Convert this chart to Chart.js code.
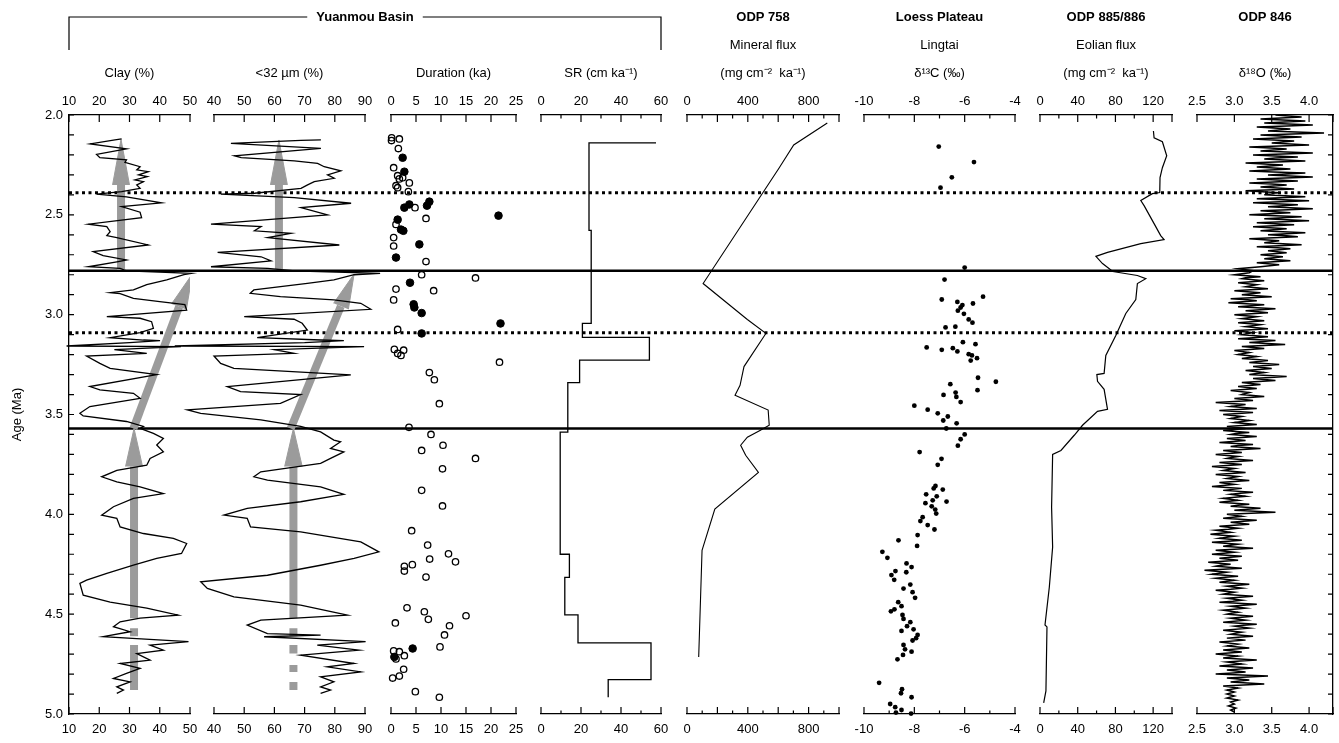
<!DOCTYPE html>
<html lang="en">
<head>
<meta charset="UTF-8">
<title>Yuanmou Basin and Pliocene records</title>
<script src="https://cdn.jsdelivr.net/npm/chart.js"></script>
<style>
  html, body { margin: 0; padding: 0; background: #fff; }
  #wrap { position: relative; width: 1339px; height: 743px; overflow: hidden; background: #fff; }
  #wrap canvas { position: absolute; top: 0; }
</style>
</head>
<body>
<div id="wrap">
  <canvas id="bg" width="1339" height="743" style="left:0"></canvas>
</div>

<script>
// ---- data: every series is [age (Ma), value] ----

// Yuanmou Basin clay content (%)
const clay = [[2.12,27.4],[2.125,25.2],[2.145,17],[2.17,29],[2.197,19.1],[2.214,20.2],[2.225,29],[2.237,28.5],[2.259,33.5],[2.275,32.4],[2.284,36.2],[2.30,33],[2.309,35.9],[2.325,31.8],[2.334,34.6],[2.35,32.4],[2.367,33.5],[2.384,27.4],[2.396,19.1],[2.41,29],[2.44,40.6],[2.459,27.4],[2.487,33.5],[2.514,34],[2.547,16.4],[2.559,22.5],[2.584,23.6],[2.604,22.5],[2.614,25.8],[2.651,36.2],[2.684,18],[2.704,21.3],[2.726,29],[2.734,26.3],[2.76,16.4],[2.768,26.9],[2.78,29],
  [2.793,50.5],[2.80,48],[2.826,42.3],[2.85,35.7],[2.876,31.3],[2.89,23.6],[2.895,26.9],[2.918,31.3],[2.935,40],[2.95,48.3],[2.977,48.9],[3.01,22.5],[3.018,33.5],[3.035,37.3],[3.068,37.9],[3.09,33.5],[3.115,23.6],[3.127,34.6],[3.13,40.1],[3.14,30],[3.157,9.2],[3.16,47],[3.175,25],[3.194,35.7],[3.207,15.8],[3.244,20.2],[3.269,23.6],[3.30,39],[3.36,16.9],[3.377,20.2],[3.394,31.3],[3.419,33.5],[3.46,16.9],[3.494,13.6],[3.507,14.7],[3.535,29],[3.56,34.6],
  [3.57,33.5],[3.595,37.9],[3.62,41.2],[3.653,39],[3.687,41.2],[3.72,36.8],[3.754,35.7],[3.78,25.8],[3.812,20.8],[3.837,25.8],[3.862,33.5],[3.896,41.2],[3.92,31.3],[3.962,24.7],[4.004,20.8],[4.02,25.8],[4.063,26.9],[4.096,34.6],[4.12,44.5],[4.146,48.9],[4.196,47.2],[4.221,39],[4.255,31.3],[4.296,22.5],[4.33,15.8],[4.346,13.6],[4.405,14.7],[4.44,23.6],[4.47,35.7],[4.505,46.1],[4.52,33.5],[4.538,26.9],[4.563,24.7],[4.588,30.2],[4.613,21.3],[4.622,32.4],[4.638,49.5],[4.655,36.8],[4.68,41.2],[4.697,32.4],[4.73,36.8],[4.747,26.9],[4.772,33.5],[4.797,29],[4.822,24.7],[4.839,30.2],[4.864,25.8],[4.88,28],[4.897,25.8]];

// Yuanmou Basin <32 um fraction (%)
const fine = [[2.125,75.4],[2.127,68.8],[2.142,45.6],[2.167,75.4],[2.204,46.7],[2.214,49],[2.23,66.6],[2.242,74.3],[2.259,76.5],[2.28,82],[2.30,77.6],[2.317,79.8],[2.334,73.2],[2.35,71],[2.367,68.8],[2.392,53.4],[2.396,42.3],[2.414,66.6],[2.442,85.4],[2.464,68.8],[2.50,77.6],[2.547,39],[2.559,55.6],[2.58,53.4],[2.593,65.5],[2.614,57.8],[2.651,81.5],[2.688,41.2],[2.71,55.6],[2.731,58.9],[2.76,39],[2.768,57.8],[2.78,66],
  [2.793,95],[2.80,86.4],[2.826,79.7],[2.843,70.9],[2.876,53.2],[2.893,52],[2.91,62],[2.926,79.7],[2.943,88.6],[2.973,91.9],[3.01,50],[3.023,66.5],[3.043,69.2],[3.077,70.9],[3.115,54.3],[3.127,75.3],[3.13,83],[3.14,70],[3.157,27],[3.16,89.7],[3.175,60],[3.194,66.5],[3.207,40],[3.244,42.2],[3.269,46.6],[3.302,85.3],[3.36,44.4],[3.385,48.8],[3.40,68.7],[3.444,62],[3.477,31.2],[3.494,35.6],[3.527,55.5],[3.56,68.7],
  [3.587,75.3],[3.628,79.7],[3.637,81.9],[3.67,78.6],[3.687,83],[3.72,78.6],[3.745,75.3],[3.787,55.5],[3.812,53.2],[3.829,57.7],[3.862,75.3],[3.90,83],[3.937,68.7],[3.97,51],[4.004,43.3],[4.02,51],[4.063,52.1],[4.088,68.7],[4.138,88.6],[4.188,94.6],[4.221,86.4],[4.255,75.3],[4.305,57.7],[4.338,35.6],[4.371,37.8],[4.413,46.6],[4.455,68.7],[4.505,84.2],[4.53,55.5],[4.555,51],[4.597,57.7],[4.605,75.3],[4.613,56.6],[4.638,90.2],[4.655,74.2],[4.68,88],[4.705,68.7],[4.747,86.4],[4.764,77.5],[4.789,88.6],[4.814,75.3],[4.839,79.7],[4.864,75.3],[4.88,78.6],[4.897,75.3]];

// grey trend arrows: shafts (two ends) and heads (base, tip, base)
const clayShafts = [[[2.776,27.2],[2.35,27.2]],[[3.57,31.3],[2.96,46.4]],[[4.52,31.5],[3.76,31.5]],[[4.57,31.5],[4.61,31.5]],[[4.655,31.5],[4.88,31.5]]];
const clayHeads = [[[2.35,24.4],[2.122,27.2],[2.35,30.0]],[[2.946,43.9],[2.795,50.8],[2.974,48.8]],[[3.76,28.7],[3.57,31.5],[3.76,34.3]]];
const fineShafts = [[[2.776,61.5],[2.35,61.5]],[[3.57,65.4],[2.958,82.0]],[[4.52,66.3],[3.76,66.3]],[[4.57,66.3],[4.61,66.3]],[[4.655,66.3],[4.697,66.3]],[[4.755,66.3],[4.79,66.3]],[[4.84,66.3],[4.88,66.3]]];
const fineHeads = [[[2.35,58.7],[2.125,61.5],[2.35,64.3]],[[2.943,79.6],[2.796,86.4],[2.973,84.5]],[[3.76,63.4],[3.57,66.3],[3.76,69.2]]];

// duration (ka), open and filled symbols
const durOpen = [[2.114,0.13],[2.12,1.67],[2.128,0.1],[2.168,1.47],[2.264,0.53],[2.304,1.33],[2.314,2.33],[2.32,1.67],[2.34,3.67],[2.354,1.0],[2.364,1.33],[2.384,3.47],[2.464,4.8],[2.518,7.0],[2.548,1.0],[2.614,0.53],[2.656,0.53],[2.734,7.0],[2.80,6.13],[2.816,16.9],[2.872,1.0],[2.88,8.53],[2.926,0.53],[3.074,1.33],[3.174,0.67],[3.178,2.53],[3.194,1.33],[3.204,2.0],[3.238,21.7],[3.29,7.67],[3.326,8.67],[3.446,9.67],[3.564,3.6],[3.60,8.0],[3.654,10.4],[3.68,6.13],[3.72,16.9],[3.772,10.3],[3.88,6.13],[3.958,10.3],[4.082,4.13],[4.154,7.33],[4.198,11.5],[4.224,7.73],[4.238,12.9],[4.252,4.27],[4.26,2.67],[4.284,2.67],[4.314,7.0],[4.468,3.2],[4.488,6.67],[4.526,7.47],[4.508,15.0],[4.544,0.87],[4.558,11.7],[4.604,10.7],[4.664,9.8],[4.684,0.53],[4.688,1.67],[4.724,1.0],[4.708,2.67],[4.776,2.53],[4.81,1.67],[4.82,0.33],[4.888,4.87],[4.916,9.67]];
const durFilled = [[2.214,2.33],[2.284,2.67],[2.434,7.67],[2.448,3.67],[2.454,7.2],[2.464,2.67],[2.504,21.5],[2.524,1.33],[2.574,2.0],[2.58,2.47],[2.648,5.67],[2.714,1.0],[2.84,3.8],[2.948,4.53],[2.964,4.67],[2.992,6.13],[3.044,21.9],[3.094,6.13],[4.672,4.33],[4.714,0.67]];

// sedimentation rate (cm/ka), stepped
const sedRate = [[2.14,57.5],[2.14,24],[2.578,24],[2.578,25.1],[3.044,25.1],[3.044,20.7],[3.114,20.7],[3.114,54.2],[3.228,54.2],[3.228,19.3],[3.34,19.3],[3.34,13.4],[3.588,13.4],[3.588,9.6],[4.20,9.6],[4.20,14.2],[4.316,14.2],[4.316,11.9],[4.504,11.9],[4.504,18.5],[4.644,18.5],[4.644,55],[4.828,55],[4.828,33.6],[4.916,33.6]];

// ODP 758 mineral flux (mg cm-2 ka-1)
const odp758 = [[2.04,923],[2.15,702],[2.264,607],[2.844,106],[3.024,397],[3.094,519],[3.26,375],[3.354,349],[3.404,316],[3.478,534],[3.554,541],[3.58,480],[3.614,397],[3.654,353],[3.704,386],[3.79,470],[3.974,183],[4.18,99],[4.714,77]];

// Lingtai d13C (permil)
const lingtai = [[2.158,-7.03],[2.236,-5.63],[2.312,-6.51],[2.364,-6.96],[2.764,-6.0],[2.824,-6.8],[2.91,-5.27],[2.924,-6.91],[2.936,-6.29],[2.952,-6.09],[2.944,-5.67],[2.964,-6.16],[2.98,-6.27],[2.996,-6.03],[3.024,-5.84],[3.04,-5.69],[3.064,-6.76],[3.06,-6.37],[3.138,-6.07],[3.148,-5.57],[3.164,-7.51],[3.176,-6.91],[3.168,-6.47],[3.184,-6.29],[3.198,-5.84],[3.204,-5.71],[3.218,-5.51],[3.23,-5.76],[3.316,-5.47],[3.336,-4.76],[3.378,-5.49],[3.348,-6.57],[3.402,-6.84],[3.39,-6.36],[3.412,-6.33],[3.438,-6.16],[3.456,-8.0],[3.476,-7.47],[3.494,-7.07],[3.51,-6.67],[3.53,-6.85],[3.544,-6.32],[3.57,-6.73],[3.60,-6.0],[3.624,-6.16],[3.656,-6.27],[3.688,-7.79],[3.722,-6.92],[3.752,-7.07],[3.858,-7.16],[3.87,-7.23],[3.876,-6.87],[3.90,-7.53],[3.91,-7.11],[3.936,-6.72],[3.944,-7.56],[3.93,-7.27],[3.96,-7.31],[3.976,-7.17],[3.996,-7.13],[4.014,-7.67],[4.034,-7.76],[4.054,-7.47],[4.076,-7.2],[4.104,-7.87],[4.13,-8.63],[4.158,-7.89],[4.188,-9.27],[4.218,-9.07],[4.246,-8.31],[4.264,-8.11],[4.284,-8.75],[4.29,-8.32],[4.304,-8.91],[4.328,-8.8],[4.352,-8.16],[4.372,-8.43],[4.39,-8.07],[4.418,-7.97],[4.44,-8.64],[4.46,-8.51],[4.486,-8.93],[4.476,-8.79],[4.504,-8.47],[4.524,-8.43],[4.54,-8.16],[4.56,-8.29],[4.584,-8.51],[4.576,-8.03],[4.604,-7.87],[4.62,-7.93],[4.632,-8.07],[4.654,-8.43],[4.676,-8.37],[4.688,-8.11],[4.704,-8.45],[4.726,-8.67],[4.844,-9.4],[4.876,-8.49],[4.896,-8.53],[4.916,-8.11],[4.95,-8.96],[4.966,-8.76],[4.98,-8.51],[4.993,-8.73],[4.998,-8.13]];

// ODP 885/886 eolian flux (mg cm-2 ka-1)
const eolian = [[2.08,120.3],[2.114,121],[2.134,129.8],[2.204,134.4],[2.264,129.8],[2.314,127.3],[2.388,127],[2.394,119.2],[2.428,106.9],[2.454,110.4],[2.544,121],[2.604,128],[2.624,131.6],[2.644,106.9],[2.688,71.6],[2.708,59.3],[2.744,66.3],[2.784,77.2],[2.804,103.3],[2.82,112.2],[2.844,103.3],[2.924,101.6],[2.994,91],[3.104,80.4],[3.204,69.8],[3.294,68],[3.3,60.3],[3.334,61],[3.374,68],[3.474,71.6],[3.484,61],[3.554,45.1],[3.604,36.3],[3.68,22.2],[3.70,13.4],[3.964,12.3],[4.164,13.4],[4.364,9.9],[4.554,5.3],[4.564,7.4],[4.884,6.3],[4.944,3.9]];

// ODP 846 benthic d18O (permil)
const odp846 = [[2.00,3.55],[2.01,3.90],[2.015,3.62],[2.02,3.35],[2.03,3.95],[2.04,3.40],[2.05,4.05],[2.055,3.70],[2.06,3.30],[2.07,3.75],[2.08,3.45],[2.09,4.20],[2.10,3.35],[2.105,3.60],[2.11,3.90],[2.12,3.25],[2.13,3.80],[2.14,3.50],[2.15,4.00],[2.16,3.20],[2.165,3.48],[2.17,3.70],[2.18,3.35],[2.19,4.05],[2.20,3.25],[2.21,3.85],[2.215,3.55],[2.22,3.40],[2.23,3.95],[2.24,3.15],[2.25,3.65],[2.26,3.30],[2.27,3.75],[2.28,3.20],[2.285,3.52],[2.29,3.95],[2.30,3.45],[2.31,4.05],[2.32,3.30],[2.33,3.85],[2.34,3.20],[2.345,3.50],[2.35,3.70],[2.36,3.35],[2.37,3.80],[2.38,3.15],[2.39,3.60],[2.40,3.40],[2.41,3.95],[2.415,3.62],[2.42,3.30],[2.43,4.00],[2.44,3.25],[2.45,3.85],[2.46,3.45],[2.47,4.05],[2.475,3.72],[2.48,3.35],[2.49,3.75],[2.50,3.20],[2.51,3.90],[2.52,3.40],[2.53,4.00],[2.54,3.30],[2.545,3.55],[2.55,3.80],[2.56,3.25],[2.57,3.70],[2.58,3.35],[2.59,3.95],[2.60,3.45],[2.605,3.70],[2.61,3.85],[2.62,3.20],[2.63,3.60],[2.64,3.40],[2.65,3.90],[2.66,3.30],[2.665,3.58],[2.67,3.75],[2.68,3.45],[2.69,3.70],[2.70,3.35],[2.71,3.65],[2.72,3.40],[2.73,3.75],[2.74,3.30],[2.75,3.60],[2.76,3.35],[2.77,3.05],[2.78,3.25],
  [2.79,3.20],[2.80,3.00],[2.81,3.35],[2.815,3.15],[2.82,3.10],[2.83,3.40],[2.84,3.05],[2.85,3.30],[2.86,3.15],[2.87,3.45],[2.875,3.22],[2.88,3.00],[2.89,3.35],[2.90,3.10],[2.91,3.50],[2.92,2.95],[2.925,3.18],[2.93,3.30],[2.94,2.92],[2.95,3.40],[2.96,3.05],[2.97,3.55],[2.98,3.15],[2.985,3.32],[2.99,3.45],[3.00,3.00],[3.01,3.30],[3.02,3.10],[3.03,3.40],[3.04,3.05],[3.045,3.22],[3.05,3.35],[3.06,3.15],[3.07,3.45],[3.08,3.00],[3.09,3.25],[3.10,3.10],[3.105,3.28],[3.11,3.45],[3.12,3.05],[3.13,3.55],[3.14,3.20],[3.15,3.68],[3.16,3.10],[3.165,3.26],[3.17,3.40],[3.18,3.00],[3.19,3.20],[3.20,3.05],[3.21,3.30],[3.22,3.10],[3.225,3.30],[3.23,3.45],[3.24,3.20],[3.25,3.60],[3.26,3.25],[3.27,3.50],[3.28,3.15],[3.285,3.28],[3.29,3.40],[3.30,3.20],[3.31,3.70],[3.32,3.25],[3.33,3.55],[3.34,3.10],[3.345,3.22],[3.35,3.35],[3.36,3.05],[3.37,3.30],[3.38,2.95],[3.39,3.20],[3.40,3.10],[3.405,3.25],[3.41,3.40],[3.42,3.00],[3.43,3.25],[3.44,2.75],[3.45,3.15],[3.46,2.95],[3.465,3.12],[3.47,3.30],[3.48,2.80],[3.49,3.25],[3.50,2.85],[3.51,3.10],[3.52,2.95],[3.525,3.08],[3.53,3.20],[3.54,3.00],[3.55,3.30],[3.56,2.90],[3.57,3.15],
  [3.58,2.85],[3.59,3.20],[3.595,3.02],[3.60,2.95],[3.61,3.30],[3.62,2.90],[3.63,3.15],[3.64,2.80],[3.65,3.25],[3.655,3.05],[3.66,2.95],[3.67,3.35],[3.68,2.85],[3.69,3.10],[3.70,2.75],[3.71,3.05],[3.715,2.96],[3.72,2.90],[3.73,3.25],[3.74,2.80],[3.75,3.10],[3.76,2.70],[3.77,3.00],[3.775,2.92],[3.78,2.85],[3.79,3.15],[3.80,2.75],[3.81,3.05],[3.82,2.90],[3.83,3.20],[3.835,3.00],[3.84,2.80],[3.85,3.00],[3.86,2.70],[3.87,3.10],[3.88,2.85],[3.89,3.25],[3.895,3.08],[3.90,2.95],[3.91,3.15],[3.92,2.85],[3.93,3.05],[3.94,2.80],[3.95,3.20],[3.955,3.05],[3.96,2.95],[3.97,3.35],[3.98,3.00],[3.99,3.55],[4.00,2.90],[4.01,3.10],[4.015,2.98],[4.02,2.85],[4.03,3.30],[4.04,2.95],[4.05,3.20],[4.06,2.80],[4.07,3.05],[4.075,2.92],[4.08,2.75],[4.09,2.95],[4.10,2.68],[4.11,3.00],[4.12,2.80],[4.13,3.10],[4.135,2.92],[4.14,2.70],[4.15,3.05],[4.16,2.85],[4.17,3.25],[4.18,2.75],[4.19,3.00],[4.195,2.86],[4.20,2.70],[4.21,3.10],[4.22,2.80],[4.23,3.05],[4.24,2.65],[4.25,2.95],[4.255,2.82],[4.26,2.75],[4.27,3.10],[4.28,2.60],[4.29,2.90],[4.30,2.70],[4.31,3.05],[4.315,2.88],[4.32,2.75],[4.33,3.00],[4.34,2.80],[4.35,3.20],[4.36,2.90],[4.37,3.10],[4.375,2.95],[4.38,2.75],[4.39,3.00],[4.40,2.85],[4.41,3.25],[4.42,2.90],[4.43,3.10],[4.435,2.98],[4.44,2.80],[4.45,3.30],[4.46,2.95],[4.47,3.15],[4.48,2.85],[4.49,3.05],[4.495,2.96],[4.50,2.90],[4.51,3.25],[4.52,2.95],[4.53,3.15],[4.54,2.85],[4.55,3.30],[4.555,3.12],[4.56,3.00],[4.57,3.20],[4.58,2.85],[4.59,3.10],[4.60,2.95],[4.61,3.25],[4.615,3.05],[4.62,2.90],[4.63,3.15],[4.64,2.80],[4.65,3.05],[4.66,2.90],[4.67,3.20],[4.675,3.02],[4.68,2.85],[4.69,3.10],[4.70,2.75],[4.71,3.05],[4.72,2.85],[4.73,3.30],[4.735,3.08],[4.74,2.90],[4.75,3.10],[4.76,2.80],[4.77,3.25],[4.78,2.90],[4.79,3.15],[4.795,2.98],[4.80,2.75],[4.81,3.45],[4.82,2.90],[4.83,3.20],[4.84,2.95],[4.85,3.40],[4.855,3.12],[4.86,2.85],[4.87,3.05],[4.88,2.90],[4.89,3.00],[4.90,2.90],[4.91,3.00],[4.92,2.90],[4.93,3.05],[4.94,2.95],[4.95,3.00],[4.96,2.92],[4.97,3.02],[4.98,2.95],[4.99,3.00]];

// horizontal reference ages
const solidAges = [2.78, 3.57];
const dottedAges = [2.39, 3.09];

// tick labels
const ageTicks = [2.0, 2.5, 3.0, 3.5, 4.0, 4.5, 5.0];
const clayTicks = [10, 20, 30, 40, 50];
const fineTicks = [40, 50, 60, 70, 80, 90];
const durTicks = [0, 5, 10, 15, 20, 25];
const srTicks = [0, 20, 40, 60];
const odp758Ticks = [0, 400, 800];
const lingtaiTicks = [-10, -8, -6, -4];
const eolianTicks = [0, 40, 80, 120];
const odp846Ticks = [2.5, 3.0, 3.5, 4.0];

// ---- drawing ----
const FONT = '"Liberation Sans", Arial, Helvetica, sans-serif';
Chart.defaults.font.family = FONT;
Chart.defaults.font.size = 13;
Chart.defaults.color = '#000';

const GREY = '#9b9b9b';
const wrap = document.getElementById('wrap');
const pts = arr => arr.map(([a, v]) => ({ x: v, y: a }));

// tick marks drawn inward, like the original figure
const inTicks = {
  id: 'inTicks',
  afterDraw(chart, args, o) {
    const ctx = chart.ctx;
    ctx.save();
    ctx.strokeStyle = '#000';
    ctx.lineWidth = 1.2;
    ctx.beginPath();
    (o.axes || []).forEach(ax => {
      const s = chart.scales[ax.id];
      const n = Math.floor((s.max - s.min) / ax.step + 1e-6);
      const vals = [];
      for (let i = 0; i <= n; i++) vals.push(s.min + i * ax.step);
      vals.push(s.max);
      vals.forEach(v => {
        const k = (v - s.min) / ax.major;
        const big = Math.abs(k - Math.round(k)) < 1e-6 || v === s.max;
        const len = big ? ax.big : ax.small;
        const p = s.getPixelForValue(v);
        if (s.isHorizontal()) {
          const y0 = s.position === 'top' ? s.bottom : s.top;
          const dir = s.position === 'top' ? 1 : -1;
          ctx.moveTo(p, y0); ctx.lineTo(p, y0 + dir * len);
        } else {
          const x0 = s.position === 'left' ? s.right : s.left;
          const dir = s.position === 'left' ? 1 : -1;
          ctx.moveTo(x0, p); ctx.lineTo(x0 + dir * len, p);
        }
      });
    });
    ctx.stroke();
    ctx.restore();
  }
};

// panel headings above the plot area
const heads = {
  id: 'heads',
  afterDraw(chart, args, o) {
    const { ctx, chartArea: a } = chart;
    const cx = (a.left + a.right) / 2;
    ctx.save();
    ctx.fillStyle = '#000';
    ctx.textAlign = 'center';
    ctx.textBaseline = 'middle';
    (o.lines || []).forEach(l => {
      if (!l.text) return;
      ctx.font = (l.bold ? 'bold ' : '') + '13px ' + FONT;
      ctx.fillText(l.text, cx, a.top - l.up);
    });
    ctx.restore();
  }
};

const panels = [
  { left: 69,   right: 190,  min: 10,  max: 50,   step: 10,  major: 10,  ticks: clayTicks,    dec: 0, head: [null, null, 'Clay (%)'] },
  { left: 214,  right: 365,  min: 40,  max: 90,   step: 10,  major: 10,  ticks: fineTicks,    dec: 0, head: [null, null, '<32 µm (%)'] },
  { left: 391,  right: 516,  min: 0,   max: 25,   step: 5,   major: 5,   ticks: durTicks,     dec: 0, head: [null, null, 'Duration (ka)'] },
  { left: 541,  right: 661,  min: 0,   max: 60,   step: 10,  major: 20,  ticks: srTicks,      dec: 0, head: [null, null, 'SR (cm ka⁻¹)'] },
  { left: 687,  right: 839,  min: 0,   max: 1000, step: 100, major: 200, ticks: odp758Ticks,  dec: 0, head: ['ODP 758', 'Mineral flux', '(mg cm⁻²  ka⁻¹)'] },
  { left: 864,  right: 1015, min: -10, max: -4,   step: 1,   major: 2,   ticks: lingtaiTicks, dec: 0, head: ['Loess Plateau', 'Lingtai', 'δ¹³C (‰)'] },
  { left: 1040, right: 1172, min: 0,   max: 140,  step: 20,  major: 40,  ticks: eolianTicks,  dec: 0, head: ['ODP 885/886', 'Eolian flux', '(mg cm⁻²  ka⁻¹)'] },
  { left: 1197, right: 1333, min: 2.5, max: 4.32, step: 0.5, major: 0.5, ticks: odp846Ticks,  dec: 1, head: ['ODP 846', null, 'δ¹⁸O (‰)'] }
];

function lineSet(arr, width, color, order) {
  return { data: pts(arr), showLine: true, borderColor: color || '#000', borderWidth: width,
           pointRadius: 0, tension: 0, clip: false, order: order || 0 };
}
function shaftSets(list) {
  return list.map(s => ({ data: pts(s), showLine: true, borderColor: GREY, borderWidth: 8,
                          borderCapStyle: 'butt', pointRadius: 0, order: 5 }));
}
function headSets(list) {
  return list.map(h => ({ data: pts(h), showLine: true, fill: 'shape', backgroundColor: GREY,
                          borderColor: GREY, borderWidth: 1, pointRadius: 0, order: 5 }));
}

function panelChart(p, datasets) {
  const pad = 40;
  const c = document.createElement('canvas');
  c.width = p.right - p.left + 2 * pad;
  c.height = 743;
  c.style.left = (p.left - pad) + 'px';
  wrap.appendChild(c);
  const xAxis = pos => ({
    type: 'linear', position: pos, min: p.min, max: p.max,
    afterFit: s => { s.height = 22; },
    afterBuildTicks: s => { s.ticks = p.ticks.map(v => ({ value: v })); },
    grid: { display: false, drawTicks: false },
    border: { display: true, color: '#000', width: 1.3 },
    ticks: { autoSkip: false, maxRotation: 0, padding: pos === 'top' ? 6 : 8, font: { size: 13 },
             callback: v => p.dec ? Number(v).toFixed(p.dec) : String(v) }
  });
  const headLines = [
    { text: p.head[0], bold: true, up: 98 },
    { text: p.head[1], up: 70 },
    { text: p.head[2], up: 42 }
  ];
  return new Chart(c, {
    type: 'scatter',
    data: { datasets },
    options: {
      responsive: false, animation: false, events: [],
      layout: { padding: { left: pad, right: pad, top: 93, bottom: 7 } },
      scales: {
        xt: xAxis('top'),
        x: xAxis('bottom'),
        y: { type: 'linear', min: 2, max: 5, reverse: true, display: false }
      },
      plugins: {
        legend: { display: false }, tooltip: { enabled: false },
        heads: { lines: headLines },
        inTicks: { axes: [
          { id: 'xt', step: p.step, major: p.major, big: 7, small: 3.5 },
          { id: 'x',  step: p.step, major: p.major, big: 7, small: 3.5 }
        ] }
      }
    },
    plugins: [heads, inTicks]
  });
}

// background chart: Age axis, frame on the right, reference lines, Yuanmou bracket
const bracket = {
  id: 'bracket',
  afterDraw(chart) {
    const ctx = chart.ctx;
    const x0 = panels[0].left, x1 = panels[3].right, cx = (x0 + x1) / 2;
    const yTop = 17, yLeg = 50;
    const label = 'Yuanmou Basin';
    ctx.save();
    ctx.font = 'bold 13px ' + FONT;
    const w = ctx.measureText(label).width / 2 + 9;
    ctx.strokeStyle = '#000';
    ctx.lineWidth = 1.2;
    ctx.beginPath();
    ctx.moveTo(x0, yLeg); ctx.lineTo(x0, yTop); ctx.lineTo(cx - w, yTop);
    ctx.moveTo(cx + w, yTop); ctx.lineTo(x1, yTop); ctx.lineTo(x1, yLeg);
    ctx.stroke();
    ctx.fillStyle = '#000';
    ctx.textAlign = 'center';
    ctx.textBaseline = 'middle';
    ctx.fillText(label, cx, yTop);
    ctx.restore();
  }
};

const refSets = solidAges.map(a => ({
  data: [{ x: 0, y: a }, { x: 1, y: a }], showLine: true, borderColor: '#000', borderWidth: 2.6, pointRadius: 0
})).concat(dottedAges.map(a => ({
  data: [{ x: 0, y: a }, { x: 1, y: a }], showLine: true, borderColor: '#000', borderWidth: 3,
  borderDash: [3, 3.5], borderCapStyle: 'butt', pointRadius: 0
})));

new Chart(document.getElementById('bg'), {
  type: 'scatter',
  data: { datasets: refSets },
  options: {
    responsive: false, animation: false, events: [],
    layout: { padding: { left: 0, right: 0, top: 115, bottom: 29 } },
    scales: {
      x: { type: 'linear', min: 0, max: 1, display: false },
      y: {
        type: 'linear', position: 'left', min: 2, max: 5, reverse: true,
        afterFit: s => { s.width = 69; },
        afterBuildTicks: s => { s.ticks = ageTicks.map(v => ({ value: v })); },
        grid: { display: false, drawTicks: false },
        border: { display: true, color: '#000', width: 1.3 },
        ticks: { padding: 6, font: { size: 13 }, callback: v => Number(v).toFixed(1) },
        title: { display: true, text: 'Age (Ma)', font: { size: 13 }, padding: { top: 10, bottom: 0 } }
      },
      yr: {
        type: 'linear', position: 'right', min: 2, max: 5, reverse: true,
        afterFit: s => { s.width = 6; },
        grid: { display: false, drawTicks: false },
        border: { display: true, color: '#000', width: 1.3 },
        ticks: { display: false }
      }
    },
    plugins: {
      legend: { display: false }, tooltip: { enabled: false },
      inTicks: { axes: [
        { id: 'y',  step: 0.1, major: 0.1, big: 5, small: 5 },
        { id: 'yr', step: 0.1, major: 0.1, big: 5, small: 5 }
      ] }
    }
  },
  plugins: [inTicks, bracket]
});

// panels
panelChart(panels[0], [lineSet(clay, 1.3)].concat(shaftSets(clayShafts), headSets(clayHeads)));
panelChart(panels[1], [lineSet(fine, 1.3)].concat(shaftSets(fineShafts), headSets(fineHeads)));
panelChart(panels[2], [
  { data: pts(durFilled), pointRadius: 3.8, pointBackgroundColor: '#000', pointBorderColor: '#000', pointBorderWidth: 1, clip: false },
  { data: pts(durOpen), pointRadius: 3.2, pointBackgroundColor: 'rgba(0,0,0,0)', pointBorderColor: '#000', pointBorderWidth: 1.3, clip: false }
]);
panelChart(panels[3], [lineSet(sedRate, 1.3)]);
panelChart(panels[4], [lineSet(odp758, 1.1)]);
panelChart(panels[5], [
  { data: pts(lingtai), pointRadius: 2.4, pointBackgroundColor: '#000', pointBorderColor: '#000', pointBorderWidth: 0, clip: false }
]);
panelChart(panels[6], [lineSet(eolian, 1.2)]);
panelChart(panels[7], [lineSet(odp846, 1.5)]);
</script>
</body>
</html>
